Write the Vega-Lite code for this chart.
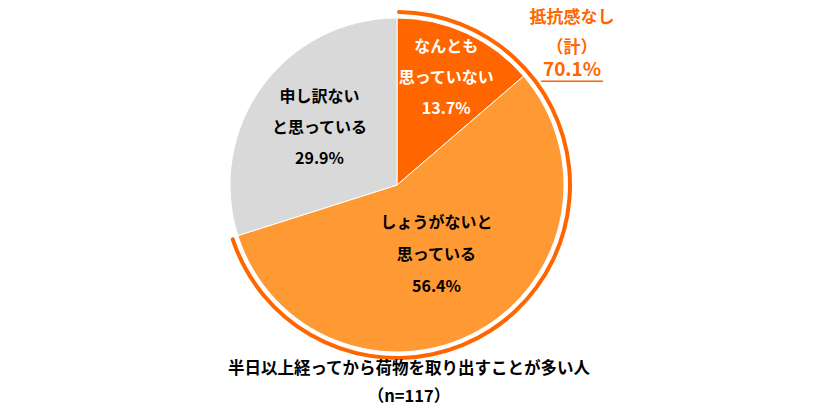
{
  "$schema": "https://vega.github.io/schema/vega-lite/v6.json",
  "width": 794,
  "height": 370,
  "padding": {"left": 0, "top": 0, "right": 0, "bottom": 20},
  "background": "white",
  "config": {"view": {"stroke": null}, "font": "Noto Sans CJK JP"},
  "title": {
    "text": ["半日以上経ってから荷物を取り出すことが多い人", "（n=117）"],
    "orient": "bottom",
    "anchor": "middle",
    "fontSize": 16.5,
    "fontWeight": "bold",
    "font": "Noto Sans CJK JP",
    "color": "#000000",
    "lineHeight": 28,
    "offset": -9,
    "dx": 12
  },
  "datasets": {
    "pie": [
      {"category": "なんとも思っていない", "line1": "なんとも", "line2": "思っていない", "value": 13.7, "order": 1},
      {"category": "しょうがないと思っている", "line1": "しょうがないと", "line2": "思っている", "value": 56.4, "order": 2},
      {"category": "申し訳ないと思っている", "line1": "申し訳ない", "line2": "と思っている", "value": 29.9, "order": 3}
    ],
    "ring": [
      {"part": "抵抗感なし", "sub": "（計）", "value": 70.1, "order": 1},
      {"part": "その他", "sub": "", "value": 29.9, "order": 2}
    ]
  },
  "data": {"name": "pie"},
  "layer": [
    {
      "mark": {"type": "arc", "outerRadius": 167, "stroke": "white", "strokeWidth": 1},
      "encoding": {
        "theta": {"field": "value", "type": "quantitative", "stack": true},
        "order": {"field": "order", "type": "quantitative"},
        "color": {
          "field": "category",
          "type": "nominal",
          "scale": {
            "domain": ["なんとも思っていない", "しょうがないと思っている", "申し訳ないと思っている"],
            "range": ["#FF6600", "#FF9933", "#D9D9D9"]
          },
          "legend": null
        }
      }
    },
    {
      "transform": [{"calculate": "[datum.line1, datum.line2, format(datum.value, '.1f') + '%']", "as": "label"}],
      "mark": {"type": "text", "radius": 118, "dy": -31, "fontSize": 16, "fontWeight": "bold", "lineHeight": 31, "baseline": "middle", "align": "center", "color": "white"},
      "encoding": {
        "theta": {"field": "value", "type": "quantitative", "stack": true},
        "order": {"field": "order", "type": "quantitative"},
        "text": {"field": "label", "type": "nominal"},
        "opacity": {"condition": {"test": "datum.order === 1", "value": 1}, "value": 0}
      }
    },
    {
      "transform": [{"calculate": "[datum.line1, datum.line2, format(datum.value, '.1f') + '%']", "as": "label"}],
      "mark": {"type": "text", "radius": 81, "dy": -33, "fontSize": 16, "fontWeight": "bold", "lineHeight": 32, "baseline": "middle", "align": "center", "color": "black"},
      "encoding": {
        "theta": {"field": "value", "type": "quantitative", "stack": true},
        "order": {"field": "order", "type": "quantitative"},
        "text": {"field": "label", "type": "nominal"},
        "opacity": {"condition": {"test": "datum.order === 2", "value": 1}, "value": 0}
      }
    },
    {
      "transform": [{"calculate": "[datum.line1, datum.line2, format(datum.value, '.1f') + '%']", "as": "label"}],
      "mark": {"type": "text", "radius": 96, "dy": -31, "fontSize": 16, "fontWeight": "bold", "lineHeight": 31, "baseline": "middle", "align": "center", "color": "black"},
      "encoding": {
        "theta": {"field": "value", "type": "quantitative", "stack": true},
        "order": {"field": "order", "type": "quantitative"},
        "text": {"field": "label", "type": "nominal"},
        "opacity": {"condition": {"test": "datum.order === 3", "value": 1}, "value": 0}
      }
    },
    {
      "data": {"name": "ring"},
      "mark": {"type": "arc", "innerRadius": 171, "outerRadius": 175, "color": "#FF6600", "cornerRadius": 2},
      "encoding": {
        "theta": {"field": "value", "type": "quantitative", "stack": true},
        "order": {"field": "order", "type": "quantitative"},
        "opacity": {"condition": {"test": "datum.order === 1", "value": 1}, "value": 0}
      }
    },
    {
      "data": {"name": "ring"},
      "transform": [
        {"filter": "datum.order === 1"},
        {"calculate": "[datum.part, datum.sub]", "as": "label"}
      ],
      "mark": {"type": "text", "theta": 0.8927, "radius": 224.7, "dy": -26, "fontSize": 17, "fontWeight": "bold", "lineHeight": 30, "baseline": "middle", "align": "center", "color": "#FF6600"},
      "encoding": {
        "text": {"field": "label", "type": "nominal"}
      }
    },
    {
      "data": {"name": "ring"},
      "transform": [
        {"filter": "datum.order === 1"},
        {"calculate": "format(datum.value, '.1f') + '%'", "as": "pct"}
      ],
      "mark": {"type": "text", "theta": 0.8927, "radius": 224.7, "dy": 26, "fontSize": 19, "fontWeight": "bold", "baseline": "middle", "align": "center", "color": "#FF6600"},
      "encoding": {
        "text": {"field": "pct", "type": "nominal"}
      }
    },
    {
      "data": {"name": "ring"},
      "transform": [{"filter": "datum.order === 1"}],
      "mark": {"type": "text", "theta": 0.8927, "radius": 224.7, "dy": 38, "fontSize": 17, "font": "DejaVu Sans", "baseline": "middle", "align": "center", "color": "#FF6600", "text": "──────"},
      "encoding": {}
    }
  ]
}
